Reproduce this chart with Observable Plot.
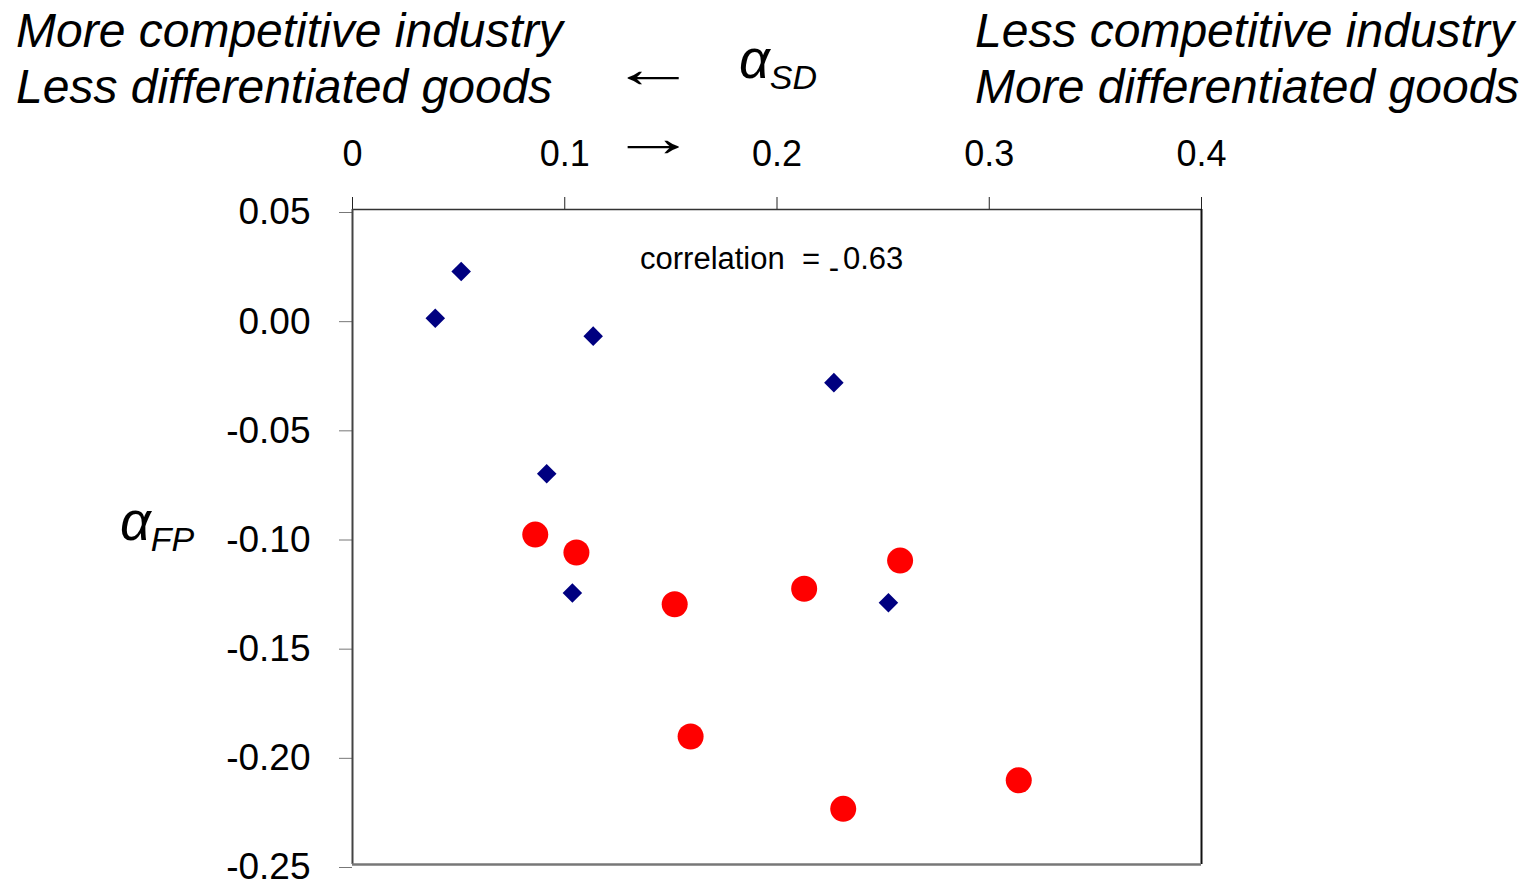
<!DOCTYPE html>
<html>
<head>
<meta charset="utf-8">
<script src="https://cdn.jsdelivr.net/npm/d3@7"></script>
<script src="https://cdn.jsdelivr.net/npm/@observablehq/plot@0.6"></script>
<style>
  html, body { margin: 0; padding: 0; background: white; }
  #wrap { position: relative; width: 1534px; height: 881px; overflow: hidden; }
  #wrap > svg { position: absolute; left: 0; top: 0; }
  #notes { pointer-events: none; }
  #notes text { font-family: "Liberation Sans", Arial, sans-serif; fill: black; }
</style>
</head>
<body>
<div id="wrap"></div>
<script>
// Blue diamonds (alpha_SD, alpha_FP)
const diamondX = [0.0390, 0.0512, 0.1134, 0.2268, 0.0915, 0.1036, 0.2525];
const diamondY = [0.0002, 0.0216, -0.0080, -0.0293, -0.0710, -0.1256, -0.1301];
// Red circles
const circleX = [0.0861, 0.1055, 0.1518, 0.2128, 0.2580, 0.1593, 0.2312, 0.3139];
const circleY = [-0.0989, -0.1071, -0.1308, -0.1237, -0.1108, -0.1914, -0.2245, -0.2114];
// Ticks
const xTicks = [0, 0.1, 0.2, 0.3, 0.4];
const yTicks = [0.05, 0, -0.05, -0.10, -0.15, -0.20, -0.25];
// Texts
const leftHeader = ["More competitive industry", "Less differentiated goods"];
const rightHeader = ["Less competitive industry", "More differentiated goods"];
const correlationText = ["correlation  = ", "-", "0.63"];

const diamonds = diamondX.map((x, i) => ({x, y: diamondY[i]}));
const circles = circleX.map((x, i) => ({x, y: circleY[i]}));

const chart = Plot.plot({
  width: 1534,
  height: 881,
  marginLeft: 352,
  marginRight: 333,
  marginTop: 209,
  marginBottom: 17,
  x: {domain: [0, 0.4]},
  y: {domain: [-0.25, 0.05]},
  style: {fontFamily: "Liberation Sans, Arial, sans-serif", fontSize: "36px", color: "black", background: "white", overflow: "visible"},
  marks: [
    Plot.axisX({anchor: "top", ticks: xTicks, tickSize: 13, tickPadding: 31, tickFormat: d => d === 0 ? "0" : d.toFixed(1), label: null, stroke: "#222", fill: "black"}),
    Plot.axisY({anchor: "left", ticks: yTicks, tickSize: 13, tickPadding: 29, dy: 3, tickFormat: d => d.toFixed(2), label: null, stroke: "#777", fill: "black", fontSize: 37}),
    Plot.ruleY([0.05], {stroke: "#333", strokeWidth: 1.5}),
    Plot.ruleX([0.4], {stroke: "#111", strokeWidth: 2}),
    Plot.ruleX([0], {stroke: "#444", strokeWidth: 2}),
    Plot.ruleY([-0.25], {stroke: "#777", strokeWidth: 2.5}),
    Plot.dot(circles, {x: "x", y: "y", r: 13, fill: "#ff0000", stroke: "none"}),
    Plot.dot(diamonds, {x: "x", y: "y", symbol: "diamond2", r: 8.8, fill: "#000080", stroke: "none"})
  ]
});
document.getElementById("wrap").appendChild(chart);

// Annotation overlay
const notes = d3.select("#wrap").append("svg")
  .attr("id", "notes").attr("width", 1534).attr("height", 881);

function italicLines(lines, x, y0, dy) {
  lines.forEach((t, i) => {
    notes.append("text").attr("x", x).attr("y", y0 + i * dy)
      .style("font-size", "48px").style("font-style", "italic").text(t);
  });
}
italicLines(leftHeader, 16, 47, 56);
italicLines(rightHeader, 975, 47, 56);

notes.append("text").attr("transform", "translate(610,87) scale(1.6,1)").style("font-size", "54px").text("\u2190");
notes.append("text").attr("transform", "translate(610,156) scale(1.6,1)").style("font-size", "54px").text("\u2192");

function alphaLabel(sub, x, y) {
  const t = notes.append("text").attr("x", x).attr("y", y).style("font-style", "italic");
  t.append("tspan").style("font-size", "54px").text("\u03b1");
  t.append("tspan").attr("dy", 11).style("font-size", "34px").text(sub);
}
alphaLabel("SD", 739, 78);
alphaLabel("FP", 120, 540);

const ct = notes.append("text").attr("x", 640).attr("y", 269).style("font-size", "31px").attr("xml:space", "preserve");
ct.append("tspan").text(correlationText[0]);
ct.append("tspan").attr("dy", 9).text(correlationText[1]);
ct.append("tspan").attr("dy", -9).attr("dx", 4).text(correlationText[2]);
</script>
</body>
</html>
